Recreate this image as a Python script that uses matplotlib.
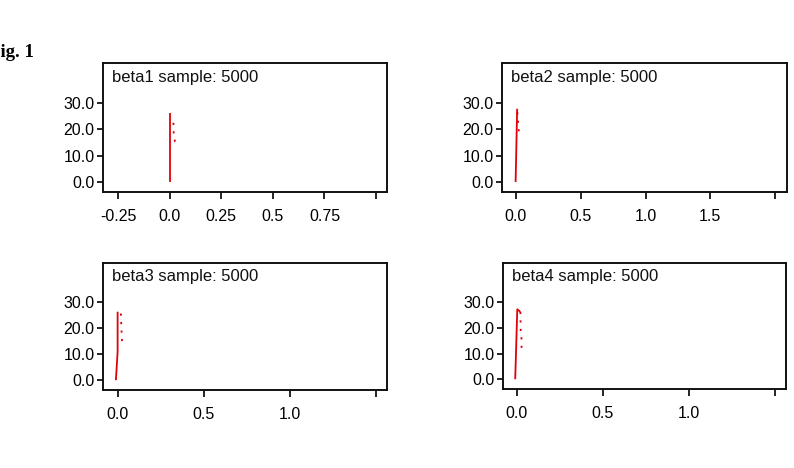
import matplotlib
matplotlib.use("Agg")
import matplotlib.pyplot as plt

# ---- data ----
names = ["beta1", "beta2", "beta3", "beta4"]
sample_size = 5000

p1_solid_x = [0.0, 0.0]
p1_solid_y = [0.0, 26.2]
p1_dot_x = [0.018, 0.02, 0.028]
p1_dot_y = [22.5, 17.5, 14.5]

p2_solid_x = [-0.003, 0.009]
p2_solid_y = [0.0, 27.8]
p2_dot_x = [0.011, 0.016, 0.02, 0.028]
p2_dot_y = [26.5, 23.0, 20.0, 18.0]

p3_solid_x = [-0.012, -0.002, -0.002]
p3_solid_y = [0.0, 11.0, 26.4]
p3_dot_x = [0.017, 0.02, 0.025]
p3_dot_y = [25.7, 20.0, 12.7]

p4_solid_x = [-0.01, 0.002, 0.02]
p4_solid_y = [0.0, 27.2, 26.2]
p4_dot_x = [0.02, 0.022, 0.026, 0.027]
p4_dot_y = [26.2, 18.5, 17.0, 11.8]

y_ticks = [0, 10, 20, 30]
y_ticklabels = ["0.0", "10.0", "20.0", "30.0"]

p1_xticks = [-0.25, 0.0, 0.25, 0.5, 0.75, 1.0]
p1_xticklabels = ["-0.25", "0.0", "0.25", "0.5", "0.75", ""]
p2_xticks = [0.0, 0.5, 1.0, 1.5, 2.0]
p2_xticklabels = ["0.0", "0.5", "1.0", "1.5", ""]
p34_xticks = [0.0, 0.5, 1.0, 1.5]
p34_xticklabels = ["0.0", "0.5", "1.0", ""]

# ---- layout ----
plt.rcParams["font.family"] = ["Liberation Sans", "DejaVu Sans"]
fig = plt.figure(figsize=(7.94, 4.68), dpi=100)
W, H = 794.0, 468.0

def box(l, r, t, b):
    return [l / W, 1 - b / H, (r - l) / W, (b - t) / H]

panels = [
    dict(rect=box(103, 387, 63, 192), xlim=(-0.323, 1.053), xt=p1_xticks, xtl=p1_xticklabels,
         sx=p1_solid_x, sy=p1_solid_y, dx=p1_dot_x, dy=p1_dot_y),
    dict(rect=box(502, 787, 63, 192), xlim=(-0.108, 2.092), xt=p2_xticks, xtl=p2_xticklabels,
         sx=p2_solid_x, sy=p2_solid_y, dx=p2_dot_x, dy=p2_dot_y),
    dict(rect=box(103, 387, 263, 390), xlim=(-0.087, 1.564), xt=p34_xticks, xtl=p34_xticklabels,
         sx=p3_solid_x, sy=p3_solid_y, dx=p3_dot_x, dy=p3_dot_y),
    dict(rect=box(503, 786, 263, 389), xlim=(-0.081, 1.564), xt=p34_xticks, xtl=p34_xticklabels,
         sx=p4_solid_x, sy=p4_solid_y, dx=p4_dot_x, dy=p4_dot_y),
]

red = "#e0000a"
for name, p in zip(names, panels):
    ax = fig.add_axes(p["rect"])
    ax.plot(p["sx"], p["sy"], color=red, lw=1.3, solid_capstyle="butt")
    ax.plot(p["dx"], p["dy"], color=red, lw=1.3, linestyle=(0, (1.2, 3.5)))
    ax.set_xlim(*p["xlim"])
    ax.set_ylim(-3.8, 45.2)
    ax.set_xticks(p["xt"])
    ax.set_xticklabels(p["xtl"])
    ax.set_yticks(y_ticks)
    ax.set_yticklabels(y_ticklabels)
    ax.tick_params(axis="both", direction="out", length=4, width=1.2, labelsize=11.5,
                   colors="black", pad=2)
    ax.tick_params(axis="x", length=5, pad=7)
    for s in ax.spines.values():
        s.set_linewidth(1.4)
        s.set_color("#111111")
    ax.text(0.032, 0.89, f"{name} sample: {sample_size}", transform=ax.transAxes,
            fontsize=12, ha="left", va="center", color="#111111")

fig.text(-0.014, 0.878, "Fig. 1", fontsize=13.5, fontweight="bold",
         family=["Liberation Serif", "DejaVu Serif"], ha="left", va="baseline")

fig.savefig("out.png", dpi=100)
